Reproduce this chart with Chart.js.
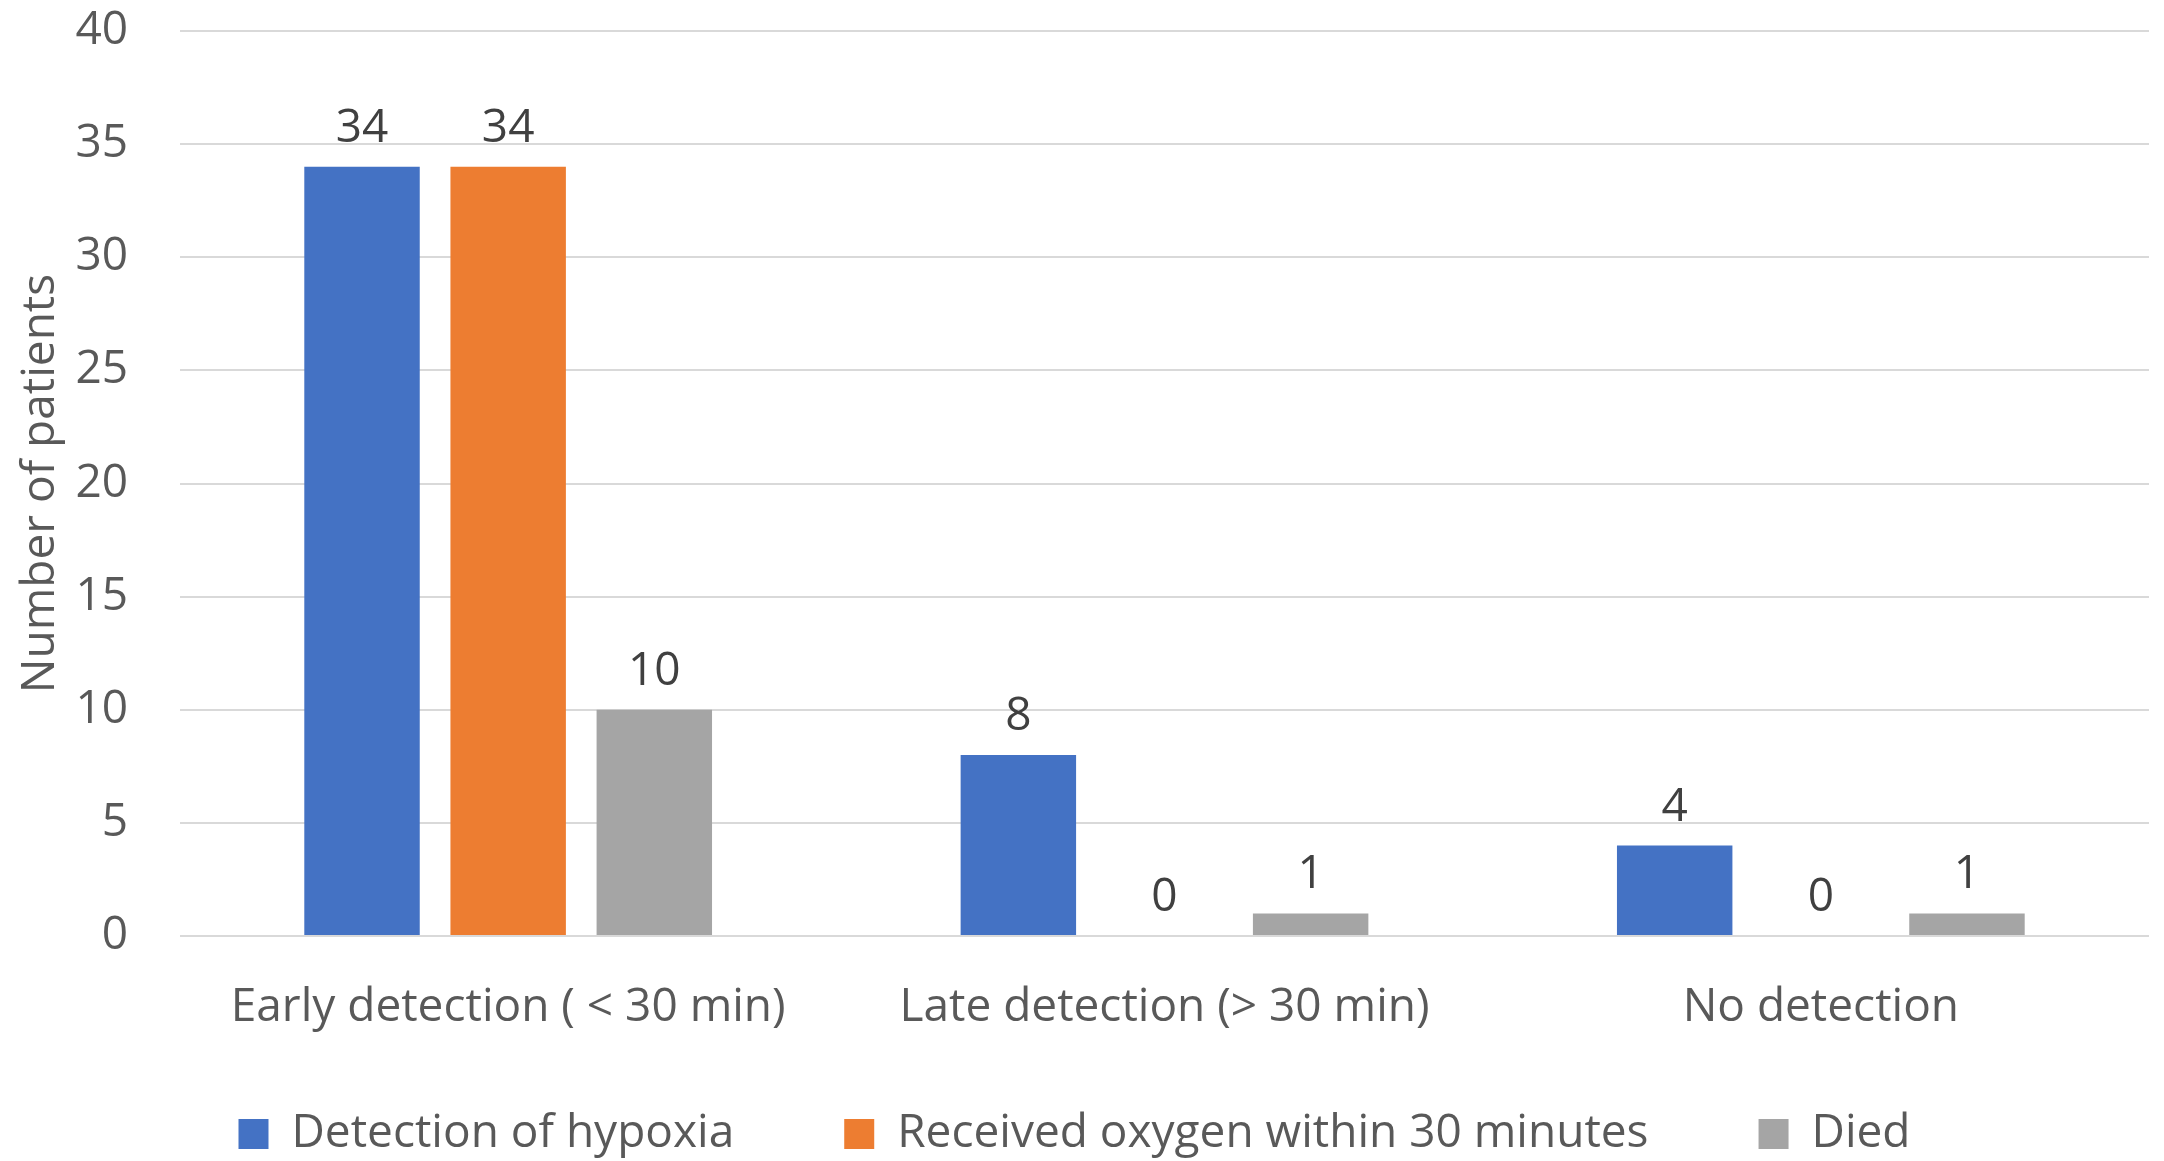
<!DOCTYPE html>
<html>
<head>
<meta charset="utf-8">
<script src="https://cdn.jsdelivr.net/npm/chart.js@4/dist/chart.umd.min.js"></script>
<style>
  html, body { margin: 0; padding: 0; background: #ffffff; overflow: hidden; }
  #wrap { width: 2164px; height: 1161px; }
</style>
</head>
<body>
<div id="wrap"><canvas id="chart" width="2164" height="1161"></canvas></div>
<script>
// Patient groups by time to hypoxia detection
const categories = ['Early detection ( < 30 min)', 'Late detection (> 30 min)', 'No detection'];
const seriesNames = ['Detection of hypoxia', 'Received oxygen within 30 minutes', 'Died'];
const detected = [34, 8, 4];
const oxygenWithin30 = [34, 0, 0];
const died = [10, 1, 1];
const yTicks = [0, 5, 10, 15, 20, 25, 30, 35, 40];

const FONT = "'Open Sans', 'Noto Sans', sans-serif";
const TEXT = '#595959';

// Value labels above every bar (zero bars included)
const valueLabels = {
  id: 'valueLabels',
  afterDatasetsDraw(chart) {
    const ctx = chart.ctx;
    ctx.save();
    ctx.font = '46px ' + FONT;
    ctx.fillStyle = '#404040';
    ctx.textAlign = 'center';
    ctx.textBaseline = 'alphabetic';
    chart.data.datasets.forEach((ds, di) => {
      const meta = chart.getDatasetMeta(di);
      meta.data.forEach((bar, i) => {
        ctx.fillText(String(ds.data[i]), bar.x, bar.y - 25);
      });
    });
    ctx.restore();
  }
};

// The legend uses wide item spacing; keep its band short and lift the row
const LEGEND_BAND = 125;
const LEGEND_LIFT = 35;
const legendBand = {
  id: 'legendBand',
  afterInit(chart) {
    const lg = chart.legend;
    if (!lg) return;
    const fit = lg.fit.bind(lg);
    lg.fit = function () { fit(); this.height = LEGEND_BAND; };
  },
  afterLayout(chart) {
    const lg = chart.legend;
    if (!lg) return;
    lg.top -= LEGEND_LIFT;
  }
};

new Chart(document.getElementById('chart'), {
  type: 'bar',
  data: {
    labels: categories,
    datasets: [
      { label: seriesNames[0], data: detected, backgroundColor: '#4472C4', borderWidth: 0 },
      { label: seriesNames[1], data: oxygenWithin30, backgroundColor: '#ED7D31', borderWidth: 0 },
      { label: seriesNames[2], data: died, backgroundColor: '#A5A5A5', borderWidth: 0 }
    ]
  },
  plugins: [valueLabels, legendBand],
  options: {
    responsive: false,
    animation: false,
    devicePixelRatio: 1,
    layout: { padding: { top: 31, right: 15, bottom: 0, left: 0 } },
    datasets: { bar: { categoryPercentage: 0.668, barPercentage: 0.79 } },
    plugins: {
      legend: {
        position: 'bottom',
        labels: {
          boxWidth: 30,
          boxHeight: 30,
          padding: 110,
          color: TEXT,
          font: { family: FONT, size: 46 }
        }
      },
      tooltip: { enabled: false }
    },
    scales: {
      x: {
        grid: { display: false, drawTicks: false },
        border: { display: false },
        ticks: {
          color: TEXT,
          padding: 44,
          maxRotation: 0,
          autoSkip: false,
          font: { family: FONT, size: 46 }
        },
        afterFit(scale) { scale.height = 100; }
      },
      y: {
        min: 0,
        max: 40,
        afterBuildTicks(scale) { scale.ticks = yTicks.map(v => ({ value: v })); },
        grid: { color: '#D9D9D9', lineWidth: 2, drawTicks: false },
        border: { display: false },
        ticks: {
          color: TEXT,
          padding: 52,
          font: { family: FONT, size: 46 }
        },
        title: {
          display: true,
          text: 'Number of patients',
          color: TEXT,
          padding: { top: 13, bottom: 0 },
          font: { family: FONT, size: 46 }
        },
        afterFit(scale) {
          scale.width = 180;
          scale.paddingTop = 0;
          scale.paddingBottom = 0;
        }
      }
    }
  }
});
</script>
</body>
</html>
